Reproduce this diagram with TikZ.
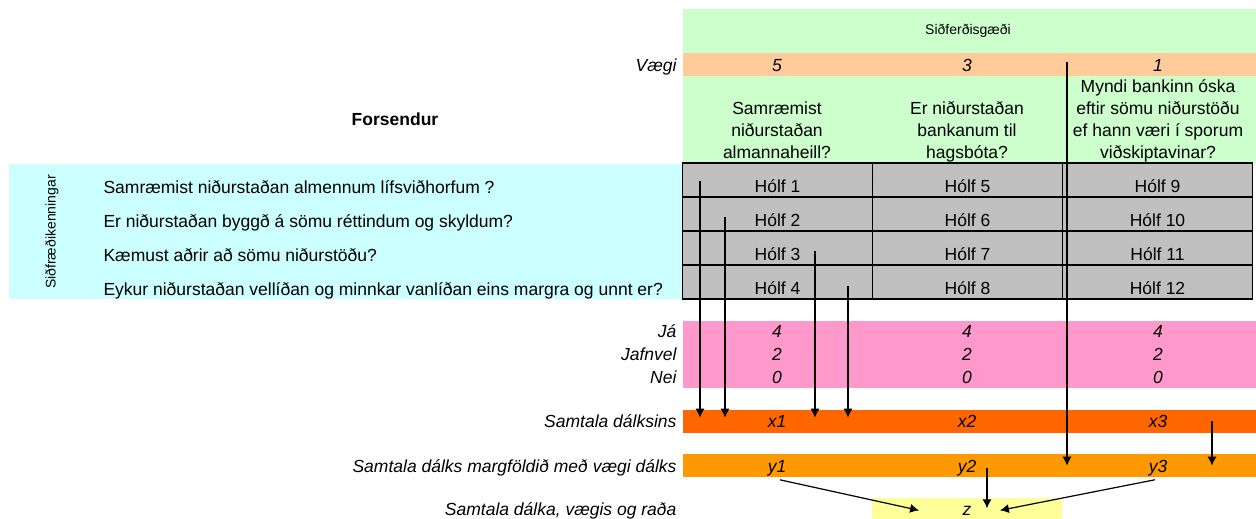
\documentclass[tikz,border=0pt]{standalone}
\usepackage{fontspec}
\setmainfont{Liberation Sans}
\usetikzlibrary{arrows.meta}
\definecolor{sgreen}{HTML}{CCFFCC}
\definecolor{sapricot}{HTML}{FFCC99}
\definecolor{scyan}{HTML}{CCFFFF}
\definecolor{sgrey}{HTML}{C0C0C0}
\definecolor{spink}{HTML}{FF99CC}
\definecolor{sred}{HTML}{FF6600}
\definecolor{sorange}{HTML}{FF9900}
\definecolor{syellow}{HTML}{FFFF99}
\begin{document}
\begin{tikzpicture}[x=1pt,y=-1pt,
    font=\fontsize{17.5}{22}\selectfont,
    band/.style={inner sep=0pt,anchor=north west,minimum width=573},
    cell/.style={draw,line width=1.7pt,fill=sgrey,minimum width=190,minimum height=34,
      inner sep=0pt,text height=24pt,text depth=0pt},
    it/.style={font=\fontsize{17.5}{22}\selectfont\itshape,anchor=base},
    lab/.style={it,anchor=base east},
    small/.style={font=\fontsize{14}{16}\selectfont},
    arr/.style={-{Latex[length=9pt,width=9pt]},line width=1.2pt}]
  \useasboundingbox (0,0) rectangle (1256,519);
  % header
  \node[band,fill=sgreen,minimum height=154] (head) at (683,9) {};
  \node[band,fill=sapricot,minimum height=23] (weights) at (683,53) {};
  \node[small,anchor=base] (title) at (968,35) {Siðferðisgæði};
  \node[lab] (vaegi) at (680,71) {Vægi};
  \node[it] (w1) at (777,71) {5};
  \node[it] (w2) at (967,71) {3};
  \node[it] (w3) at (1158,71) {1};
  % anchor=base is the last line here
  \node[align=center,anchor=base] (q1) at (777,158) {Samræmist\\niðurstaðan\\almannaheill?};
  \node[align=center,anchor=base] (q2) at (967,158) {Er niðurstaðan\\bankanum til\\hagsbóta?};
  \node[align=center,anchor=base] (q3) at (1158,158) {Myndi bankinn óska\\eftir sömu niðurstöðu\\ef hann væri í sporum\\viðskiptavinar?};
  \node[font=\fontsize{17.5}{22}\selectfont\bfseries,anchor=base] (fors) at (395,125) {Forsendur};
  % theories
  \node[fill=scyan,inner sep=0pt,anchor=north west,minimum width=674,minimum height=135] (theory) at (9,164) {};
  \node[small,rotate=90] (kenn) at (52,232) {Siðfræðikenningar};
  \node[anchor=base west] (r1) at (100,193) {Samræmist niðurstaðan almennum lífsviðhorfum ?};
  \node[anchor=base west] (r2) at (100,227) {Er niðurstaðan byggð á sömu réttindum og skyldum?};
  \node[anchor=base west] (r3) at (100,261) {Kæmust aðrir að sömu niðurstöðu?};
  \node[anchor=base west] (r4) at (100,295) {Eykur niðurstaðan vellíðan og minnkar vanlíðan eins margra og unnt er?};
  % cells
  \foreach \c/\cx in {0/777.5,1/967.5,2/1157.5}
    \foreach \r in {1,...,4} {
      \pgfmathtruncatemacro\n{\c*4+\r}
      \node[cell] (h\n) at (\cx,146+34*\r) {Hólf \n};
    }
  % scores
  \node[band,fill=spink,minimum height=67] (scores) at (683,321) {};
  \node[lab] (ja) at (680,337) {Já};
  \node[lab] (jafn) at (680,360) {Jafnvel};
  \node[lab] (nei) at (680,383) {Nei};
  \foreach \cx in {777,967,1158} {
    \node[it] at (\cx,337) {4};
    \node[it] at (\cx,360) {2};
    \node[it] at (\cx,383) {0};
  }
  % sums
  \node[band,fill=sred,minimum height=23] (xrow) at (683,410) {};
  \node[lab] (xlab) at (680,427) {Samtala dálksins};
  \node[it] (x1) at (777,427) {x1};
  \node[it] (x2) at (967,427) {x2};
  \node[it] (x3) at (1158,427) {x3};
  \node[band,fill=sorange,minimum height=23] (yrow) at (683,454) {};
  \node[lab] (ylab) at (680,472) {Samtala dálks margföldið með vægi dálks};
  \node[it] (y1) at (777,472) {y1};
  \node[it] (y2) at (967,472) {y2};
  \node[it] (y3) at (1158,472) {y3};
  \node[fill=syellow,inner sep=0pt,minimum width=190,minimum height=21,anchor=north west] (zbox) at (872,498) {};
  \node[lab] (zlab) at (680,515) {Samtala dálka, vægis og raða};
  \node[it] (z) at (967,515) {z};
  % arrows
  \coordinate (s1) at (700,181);
  \coordinate (s2) at (725,217);
  \coordinate (s3) at (815,251);
  \coordinate (s4) at (848,286);
  \coordinate (s5) at (1067,62);
  \coordinate (s6) at (1212,421);
  \coordinate (s7) at (987,468);
  \foreach \s in {s1,s2,s3,s4}
    \draw[arr,shorten >=4pt] (\s) -- (\s |- xrow.center);
  \draw[arr] (s5) -- (s5 |- yrow.center);
  \draw[arr] (s6) -- (s6 |- yrow.center);
  \draw[arr,shorten >=2pt] (s7) -- (s7 |- z.center);
  \draw[arr,shorten <=3pt] (y1.south) -- ([xshift=-40pt]z.west);
  \draw[arr,shorten <=3pt] (y3.south) -- ([xshift=25pt]z.east);
\end{tikzpicture}
\end{document}
